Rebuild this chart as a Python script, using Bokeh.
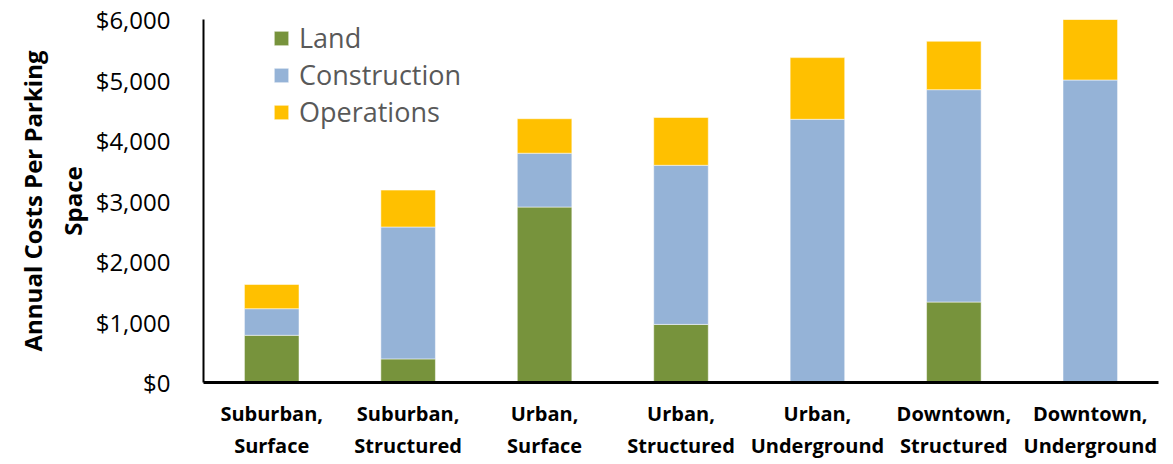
from bokeh.plotting import figure
from bokeh.models import ColumnDataSource, Range1d, FixedTicker, NumeralTickFormatter, Legend, LegendItem
from bokeh.embed import file_html
from bokeh.resources import INLINE

categories = ["Suburban,\nSurface", "Suburban,\nStructured", "Urban,\nSurface", "Urban,\nStructured",
              "Urban,\nUnderground", "Downtown,\nStructured", "Downtown,\nUnderground"]
land = [780, 390, 2900, 960, 0, 1330, 0]
construction = [440, 2180, 890, 2630, 4350, 3510, 5000]
operations = [400, 610, 570, 790, 1020, 800, 1000]
series_names = ["Land", "Construction", "Operations"]
series_colors = ["#77933C", "#95B3D7", "#FFC000"]
y_ticks = [0, 1000, 2000, 3000, 4000, 5000, 6000]

source = ColumnDataSource(data=dict(cat=categories, Land=land, Construction=construction, Operations=operations))

p = figure(x_range=categories, y_range=Range1d(0, 6000), width=1173, height=464,
           output_backend="svg", toolbar_location=None,
           min_border_left=203, min_border_right=15, min_border_top=19, min_border_bottom=82)
p.outline_line_color = None
p.xgrid.grid_line_color = None
p.ygrid.grid_line_color = None

renderers = p.vbar_stack(series_names, x="cat", width=0.4, color=series_colors, source=source,
                         line_color="white", line_alpha=0.5, line_width=1)

legend = Legend(items=[LegendItem(label=n, renderers=[r]) for n, r in zip(series_names, renderers)],
                location=(69, 252), orientation="vertical", border_line_color=None,
                background_fill_alpha=0, padding=0, margin=0, spacing=-4,
                glyph_width=18, glyph_height=18, label_standoff=9,
                label_text_font="Open Sans", label_text_font_size="27px", label_text_color="#595959")
p.add_layout(legend, "center")

ya = p.yaxis[0]
ya.ticker = FixedTicker(ticks=y_ticks)
ya.formatter = NumeralTickFormatter(format="$0,0")
ya.major_tick_line_color = None
ya.minor_tick_line_color = None
ya.axis_line_color = "black"
ya.axis_line_width = 2
ya.major_label_standoff = 27
ya.major_label_text_font = "Open Sans"
ya.major_label_text_font_size = "24px"
ya.major_label_text_color = "black"
ya.axis_label = "Annual Costs Per Parking\nSpace"
ya.axis_label_text_font = "Open Sans"
ya.axis_label_text_font_style = "bold"
ya.axis_label_text_font_size = "24px"
ya.axis_label_text_color = "black"
ya.axis_label_standoff = 4

xa = p.xaxis[0]
xa.major_tick_line_color = None
xa.minor_tick_line_color = None
xa.axis_line_color = "black"
xa.axis_line_width = 3
xa.major_label_standoff = 11
xa.major_label_text_font = "Open Sans"
xa.major_label_text_font_style = "bold"
xa.major_label_text_font_size = "20px"
xa.major_label_text_color = "black"

open("out.html", "w").write(file_html(p, INLINE))
